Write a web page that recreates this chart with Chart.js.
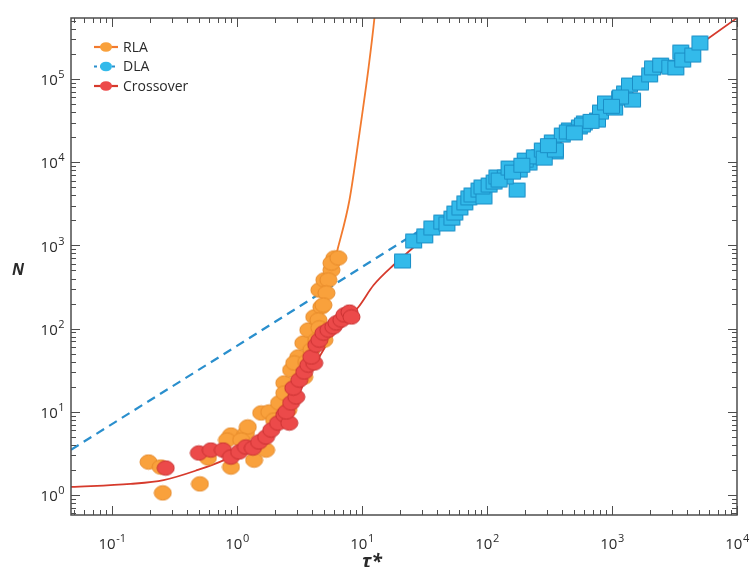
<!DOCTYPE html>
<html>
<head>
<meta charset="utf-8">
<script src="https://cdn.jsdelivr.net/npm/chart.js@4.4.0/dist/chart.umd.min.js"></script>
<style>
  html, body { margin: 0; padding: 0; background: #fff; }
</style>
</head>
<body>
<canvas id="chart" width="750" height="567"></canvas>
<script>
// RLA points (tau*, N)
const rlaTau = [0.196, 0.255, 0.245, 0.505, 0.585, 0.895, 0.895, 1.18, 1.37, 1.71, 1.56, 1.81, 2.17, 2.39, 2.71,
  3.09, 3.39, 3.72, 4.15, 4.73, 4.56, 5.00, 5.69, 6.01, 5.69, 4.48, 5.00, 3.45, 2.87, 1.22, 2.39, 2.87,
  6.47, 5.38, 5.19, 4.91, 4.56, 4.31, 3.93, 3.58, 0.831, 1.08, 1.98, 2.57];
const rlaN = [2.49, 1.06, 2.17, 1.36, 2.79, 2.17, 5.26, 5.56, 2.63, 3.47, 9.68, 9.95, 12.8, 22.2, 31.8,
  45.6, 67.1, 96.2, 138, 182, 291, 384, 506, 706, 614, 127, 72.9, 26.2, 15.1, 6.57, 16.8, 38.6,
  706, 384, 268, 192, 102, 72.9, 55.3, 39.7, 4.58, 4.58, 7.96, 10.5];

// Crossover points
const crossTau = [0.269, 0.495, 0.618, 0.772, 0.895, 1.04, 1.18, 1.34, 1.50, 1.71, 1.88, 2.13, 2.39, 2.62, 2.48,
  2.71, 2.98, 2.82, 3.15, 3.45, 3.72, 4.15, 3.93, 4.31, 4.56, 4.91, 5.38, 5.90, 6.24, 6.84, 7.23, 7.94, 8.24];
const crossN = [2.11, 3.20, 3.47, 3.47, 2.86, 3.29, 3.78, 3.67, 4.34, 4.98, 6.04, 7.33, 9.16, 7.33, 9.95,
  12.8, 15.1, 19.3, 24.1, 30.1, 36.5, 38.6, 45.6, 63.5, 72.9, 88.5, 96.2, 105, 117, 127, 146, 158, 138];

// DLA points
const dlaTau = [21.1, 25.9, 31.8, 36.2, 43.5, 47.8, 52.4, 55.3, 60.7, 66.5, 71.6, 75.8, 86.3, 94.6, 91.2, 104, 114, 120,
  174, 181, 140, 125, 217, 262, 352, 150, 202, 239, 277, 287, 333, 352, 400, 456, 548, 601, 765, 809,
  887, 1050, 1150, 1260, 1380, 439, 580, 1460, 1690, 2000, 2110, 2450, 2900, 3240, 3550, 3680, 4430, 5050, 1170,
  160, 190, 310, 500, 680, 990];
const dlaN = [650, 1130, 1300, 1620, 1910, 1810, 2130, 2450, 2820, 3240, 3720, 4040, 4630, 3820, 5040, 5320, 5780, 6640,
  4630, 8050, 6640, 6110, 9780, 11600, 13300, 8510, 10600, 11600, 14000, 11200, 17500, 14000, 21200, 24400, 26500, 29600, 32100, 40100,
  51500, 44800, 59100, 67900, 84700, 23100, 28000, 55900, 89500, 112000, 136000, 147000, 139000, 136000, 211000, 169000, 194000, 271000, 60800,
  7600, 9200, 15800, 22500, 31000, 47000];

// fitted curves
const rlaFitTau = [2.71, 4.31, 6.36, 7.94, 9.55, 11.3, 12.6, 13.2];
const rlaFitN = [13.9, 96, 880, 3515, 22400, 139000, 556000, 1200000];
const dlaFitTau = [0.047, 1, 36.2];
const dlaFitN = [3.5, 62, 1860];
const crossFitTau = [0.047, 0.141, 0.259, 0.486, 0.787, 1.30, 2.06, 2.98, 4.31, 6.24, 9.37, 12.4, 17.9, 38.2, 635, 10000];
const crossFitN = [1.25, 1.36, 1.51, 2.0, 2.63, 3.88, 6.94, 15.1, 39.7, 96, 182, 334, 581, 1531, 28800, 541000];

// axes
const xRange = [0.047, 10000];
const yRange = [0.575, 541000];
const xTicks = [0.1, 1, 10, 100, 1000, 10000];
const yTicks = [1, 10, 100, 1000, 10000, 100000];

const colors = {
  orange: "#f9a13c", orangeEdge: "#e68a2a", orangeLine: "#f27a2e",
  red: "#ec4a4a", redEdge: "#c93232", redLine: "#d63a2c",
  blue: "#33baea", blueEdge: "#1a8ec6", blueLine: "#2a8fcd",
  axis: "#4d4d4d", text: "#2a2a2a"
};
const FONT = "'Open Sans', 'Noto Sans', sans-serif";

function pts(xs, ys) {
  return xs.map((x, i) => ({ x: x, y: ys[i] }));
}

function markImg(shape, fill, stroke) {
  const c = document.createElement("canvas");
  c.width = 19; c.height = 17;
  const g = c.getContext("2d");
  g.fillStyle = fill;
  g.strokeStyle = stroke;
  g.lineWidth = 1;
  g.beginPath();
  if (shape === "ellipse") g.ellipse(9.5, 8.5, 8.5, 7.2, 0, 0, Math.PI * 2);
  else g.rect(1.5, 1.5, 16, 14);
  g.fill();
  g.stroke();
  return c;
}

function drawPow(ctx, exp, x, y, align) {
  const base = "10", sup = String(exp);
  ctx.font = "15px " + FONT;
  const wb = ctx.measureText(base).width;
  ctx.font = "11px " + FONT;
  const ws = ctx.measureText(sup).width;
  let left = x;
  if (align === "center") left = x - (wb + ws) / 2;
  else if (align === "right") left = x - (wb + ws);
  ctx.textAlign = "left";
  ctx.textBaseline = "middle";
  ctx.font = "15px " + FONT;
  ctx.fillText(base, left, y);
  ctx.font = "11px " + FONT;
  ctx.fillText(sup, left + wb + 0.5, y - 6);
}

const framePlugin = {
  id: "frame",
  afterDraw(chart) {
    const { ctx, chartArea: a, scales } = chart;
    const x = scales.x, y = scales.y;
    ctx.save();
    ctx.strokeStyle = colors.axis;
    ctx.lineWidth = 1.5;
    ctx.strokeRect(a.left, a.top, a.right - a.left, a.bottom - a.top);

    // inward ticks on all four sides
    ctx.lineWidth = 1;
    ctx.beginPath();
    for (let d = Math.floor(Math.log10(x.min)); d <= Math.ceil(Math.log10(x.max)); d++) {
      for (let m = 1; m <= 9; m++) {
        const v = m * Math.pow(10, d);
        if (v < x.min || v > x.max) continue;
        const px = Math.round(x.getPixelForValue(v)) + 0.5;
        const len = m === 1 ? 9 : 5;
        ctx.moveTo(px, a.bottom); ctx.lineTo(px, a.bottom - len);
        ctx.moveTo(px, a.top); ctx.lineTo(px, a.top + len);
      }
    }
    for (let d = Math.floor(Math.log10(y.min)); d <= Math.ceil(Math.log10(y.max)); d++) {
      for (let m = 1; m <= 9; m++) {
        const v = m * Math.pow(10, d);
        if (v < y.min || v > y.max) continue;
        const py = Math.round(y.getPixelForValue(v)) + 0.5;
        const len = m === 1 ? 9 : 5;
        ctx.moveTo(a.left, py); ctx.lineTo(a.left + len, py);
        ctx.moveTo(a.right, py); ctx.lineTo(a.right - len, py);
      }
    }
    ctx.stroke();

    // tick labels
    ctx.fillStyle = colors.text;
    xTicks.forEach(v => {
      drawPow(ctx, Math.round(Math.log10(v)), x.getPixelForValue(v), a.bottom + 30, "center");
    });
    yTicks.forEach(v => {
      drawPow(ctx, Math.round(Math.log10(v)), a.left - 7, y.getPixelForValue(v) + 2, "right");
    });

    // axis titles
    ctx.font = "italic bold 19px " + FONT;
    ctx.textAlign = "center";
    ctx.textBaseline = "middle";
    ctx.fillText("\u03c4*", 372, a.bottom + 48);
    ctx.font = "italic bold 16px " + FONT;
    ctx.fillText("N", 18, 270);

    // legend
    const rows = [
      { label: "RLA", line: colors.orangeLine, fill: colors.orange, dash: [] },
      { label: "DLA", line: colors.blueLine, fill: colors.blue, dash: [3, 3] },
      { label: "Crossover", line: colors.redLine, fill: colors.red, dash: [] }
    ];
    rows.forEach((r, i) => {
      const ly = 47 + i * 19.5;
      ctx.strokeStyle = r.line;
      ctx.lineWidth = 2.2;
      ctx.setLineDash(r.dash);
      ctx.beginPath();
      ctx.moveTo(94, ly); ctx.lineTo(118, ly);
      ctx.stroke();
      ctx.setLineDash([]);
      ctx.fillStyle = r.fill;
      ctx.beginPath();
      ctx.ellipse(106, ly, 6, 4.8, 0, 0, Math.PI * 2);
      ctx.fill();
      ctx.fillStyle = colors.text;
      ctx.font = "14px " + FONT;
      ctx.textAlign = "left";
      ctx.fillText(r.label, 123, ly + 1);
    });
    ctx.restore();
  }
};

new Chart(document.getElementById("chart"), {
  type: "scatter",
  data: {
    datasets: [
      {
        label: "DLA points",
        data: pts(dlaTau, dlaN),
        pointStyle: markImg("rect", colors.blue, colors.blueEdge),
        order: 1
      },
      {
        label: "Crossover points",
        data: pts(crossTau, crossN),
        pointStyle: markImg("ellipse", colors.red, colors.redEdge),
        order: 2
      },
      {
        label: "RLA points",
        data: pts(rlaTau, rlaN),
        pointStyle: markImg("ellipse", colors.orange, colors.orangeEdge),
        order: 3
      },
      {
        label: "Crossover",
        data: pts(crossFitTau, crossFitN),
        showLine: true,
        borderColor: colors.redLine,
        borderWidth: 1.8,
        pointRadius: 0,
        cubicInterpolationMode: "monotone",
        order: 4
      },
      {
        label: "DLA",
        data: pts(dlaFitTau, dlaFitN),
        showLine: true,
        borderColor: colors.blueLine,
        borderWidth: 2.2,
        borderDash: [9, 6],
        pointRadius: 0,
        order: 5
      },
      {
        label: "RLA",
        data: pts(rlaFitTau, rlaFitN),
        showLine: true,
        borderColor: colors.orangeLine,
        borderWidth: 1.8,
        pointRadius: 0,
        cubicInterpolationMode: "monotone",
        order: 6
      }
    ]
  },
  options: {
    responsive: false,
    devicePixelRatio: 1,
    animation: false,
    events: [],
    layout: { padding: { top: 18, right: 13, left: 0, bottom: 0 } },
    plugins: { legend: { display: false }, tooltip: { enabled: false } },
    scales: {
      x: {
        type: "logarithmic",
        min: xRange[0],
        max: xRange[1],
        grid: { display: false },
        border: { display: false },
        ticks: { display: false },
        afterFit(s) { s.height = 52; }
      },
      y: {
        type: "logarithmic",
        min: yRange[0],
        max: yRange[1],
        grid: { display: false },
        border: { display: false },
        ticks: { display: false },
        afterFit(s) { s.width = 71; }
      }
    }
  },
  plugins: [framePlugin]
});
</script>
</body>
</html>
